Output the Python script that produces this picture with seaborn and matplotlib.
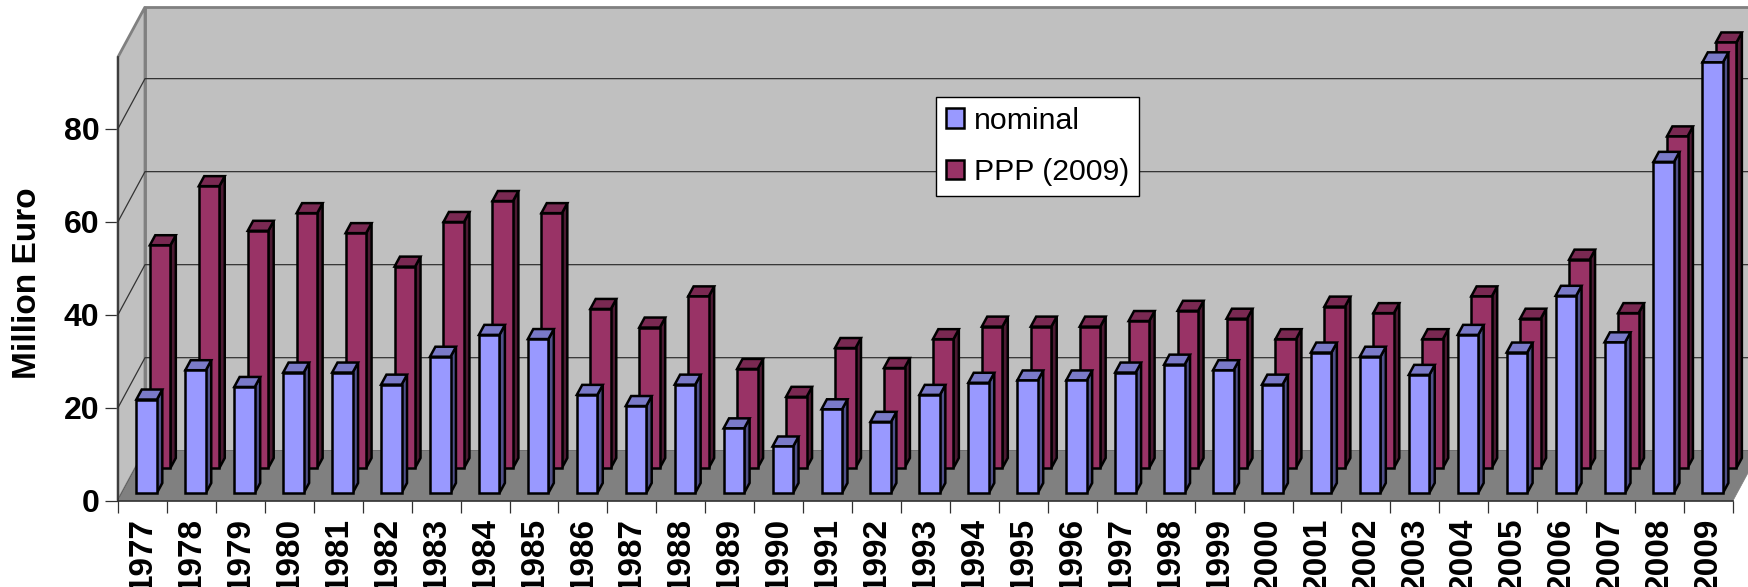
import pandas as pd
import matplotlib.pyplot as plt
import seaborn as sns
from matplotlib.patches import Polygon
from matplotlib.lines import Line2D

# Set style
sns.set_theme(style="white")
plt.rcParams['font.family'] = ['Liberation Sans', 'DejaVu Sans']

# Data
years = list(range(1977, 2010))
nominal = [20.1, 26.4, 22.8, 25.9, 25.9, 23.3, 29.3, 34.0, 33.1, 21.1, 18.7,
           23.3, 13.9, 10.0, 18.0, 15.3, 21.1, 23.7, 24.2, 24.2, 25.9, 27.6,
           26.4, 23.3, 30.2, 29.3, 25.4, 34.0, 30.2, 42.4, 32.4, 71.2, 92.6]
ppp = [47.9, 60.6, 51.0, 54.8, 50.5, 43.3, 52.9, 57.4, 54.8, 34.2, 30.2,
       36.9, 21.3, 15.3, 25.8, 21.5, 27.7, 30.4, 30.4, 30.4, 31.6, 33.8,
       32.1, 27.7, 34.7, 33.3, 27.7, 36.9, 32.1, 44.8, 33.3, 71.3, 91.5]
y_ticks = [0, 20, 40, 60, 80]
series_names = ['nominal', 'PPP (2009)']

# Fake 3D: depth of the box in data units
DX = 0.552
DY = 10.75
YMAX = 95.4
XMIN, XMAX = -0.5, 32.5
BAR_DEPTH = 0.2
EDGE = 1.8

FRONT = {'nominal': '#9999FF', 'PPP (2009)': '#993366'}
TOP = {'nominal': '#7A7AC8', 'PPP (2009)': '#7A2952'}
SIDE = {'nominal': '#50508A', 'PPP (2009)': '#4D1A33'}
START = {'nominal': 0.154, 'PPP (2009)': 0.654}
BASE_Z = {'nominal': 6, 'PPP (2009)': 4}

df = pd.DataFrame({
    'year': [str(y) for y in years] * 2,
    'value': nominal + ppp,
    'series': [series_names[0]] * len(years) + [series_names[1]] * len(years),
})

fig = plt.figure(figsize=(17.49, 5.87), dpi=100)
ax = fig.add_axes([118 / 1749, (587 - 500.7) / 587, 1615 / 1749, 443.7 / 587])

sns.barplot(data=df, x='year', y='value', hue='series', hue_order=series_names,
            palette=FRONT, dodge=False, width=0.42, saturation=1,
            edgecolor='black', linewidth=EDGE, ax=ax)


def face(points, color, z, edge='black', lw=EDGE):
    ax.add_patch(Polygon(points, closed=True, facecolor=color, edgecolor=edge,
                         linewidth=lw, zorder=z, clip_on=False, joinstyle='miter'))


# Walls and floor
face([(XMIN + DX, DY), (XMAX + DX, DY), (XMAX + DX, YMAX + DY), (XMIN + DX, YMAX + DY)],
     '#C0C0C0', 0.5, edge='#808080', lw=2)
face([(XMIN, 0), (XMIN + DX, DY), (XMIN + DX, YMAX + DY), (XMIN, YMAX)],
     '#C0C0C0', 0.6, edge='#808080', lw=2)
face([(XMIN, 0), (XMAX, 0), (XMAX + DX, DY), (XMIN + DX, DY)],
     '#808080', 1.5, edge='#808080', lw=0.5)

# Gridlines on the walls
for v in y_ticks:
    ax.add_line(Line2D([XMIN, XMIN + DX, XMAX + DX], [v, v + DY, v + DY], color='#333333',
                       linewidth=0.9, zorder=1, clip_on=False))

# Shift the bars into the box and give them side and top faces
for container, name in zip(ax.containers, series_names):
    f0 = START[name]
    z = BASE_Z[name]
    for bar in container:
        h = bar.get_height()
        x0 = bar.get_x() + f0 * DX
        x1 = x0 + bar.get_width()
        y0 = f0 * DY
        y1 = y0 + h
        ddx = BAR_DEPTH * DX
        ddy = BAR_DEPTH * DY
        bar.set_x(x0)
        bar.set_y(y0)
        bar.set_zorder(z + 0.2)
        bar.set_clip_on(False)
        face([(x1, y0), (x1 + ddx, y0 + ddy), (x1 + ddx, y1 + ddy), (x1, y1)], SIDE[name], z)
        face([(x0, y1), (x1, y1), (x1 + ddx, y1 + ddy), (x0 + ddx, y1 + ddy)], TOP[name], z + 0.1)

ax.set_xlim(XMIN, XMAX)
ax.set_ylim(0, YMAX)
sns.despine(ax=ax)
for side in ['left', 'bottom']:
    ax.spines[side].set_color('#303030')
    ax.spines[side].set_linewidth(1.2)
    ax.spines[side].set_zorder(2)

ax.set_yticks(y_ticks)
ax.tick_params(axis='y', length=9.4, width=0.9, color='#303030', pad=4,
               left=True, labelsize=23, labelcolor='black')
for label in ax.get_yticklabels():
    label.set_fontweight('bold')
ax.set_xticks(range(len(years)))
ax.set_xticklabels([str(y) for y in years], rotation=90, fontweight='bold', fontsize=24)
ax.tick_params(axis='x', which='major', length=0, pad=12, bottom=False, labelcolor='black')
ax.set_xticks([XMIN + i for i in range(len(years) + 1)], minor=True)
ax.tick_params(axis='x', which='minor', length=8.6, width=0.9, color='#303030', bottom=True)

ax.set_xlabel('')
ax.set_ylabel('Million Euro', fontsize=24, fontweight='bold', color='black')
ax.yaxis.set_label_coords(-75 / 1615, 0.49)

# Legend
handles = [plt.Rectangle((0, 0), 1, 1, facecolor=FRONT[n], edgecolor='black', linewidth=EDGE)
           for n in series_names]
leg = ax.legend(handles, series_names, loc='upper left',
                bbox_to_anchor=(936 / 1749, 1 - 97 / 587), bbox_transform=fig.transFigure,
                fontsize=21.8, frameon=True, fancybox=False, framealpha=1, edgecolor='black',
                facecolor='white', handlelength=0.62, handleheight=0.62, handletextpad=0.32,
                labelspacing=0.78, borderpad=0.32, borderaxespad=0, labelcolor='black')
leg.set_zorder(10)

fig.savefig('out.png', dpi=100)
plt.close(fig)
